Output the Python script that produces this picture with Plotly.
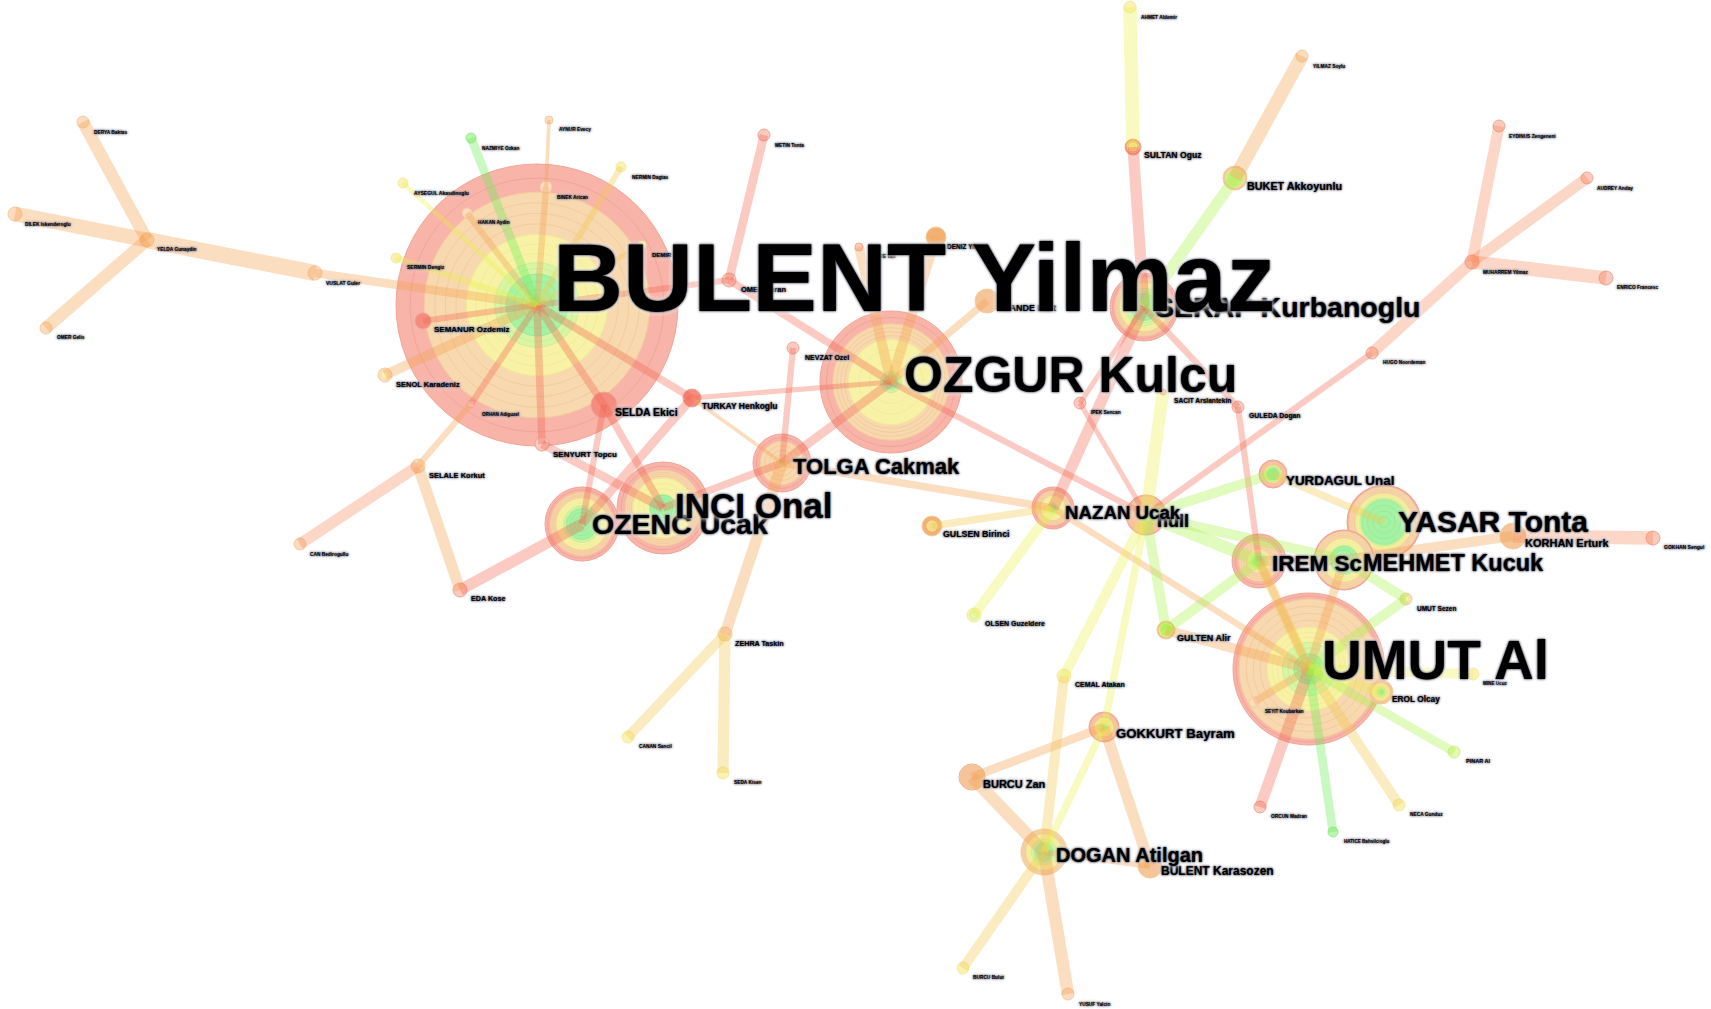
import numpy as np
import plotly.graph_objects as go

# Node table (pixel positions of the co-authorship map)
node_names = [
    "BULENT Yilmaz", "OZGUR Kulcu", "UMUT Al", "INCI Onal", "OZENC Ucak",
    "YASAR Tonta", "MEHMET Kucuk", "IREM Sc", "TOLGA Cakmak", "SERAP Kurbanoglu",
    "NAZAN Ucak", "hull", "DOGAN Atilgan", "GOKKURT Bayram", "YURDAGUL Unal",
    "BUKET Akkoyunlu", "BURCU Zan", "BULENT Karasozen", "KORHAN Erturk", "SELDA Ekici",
    "TURKAY Henkoglu", "SEMANUR Ozdemiz", "SENOL Karadeniz", "SENYURT Topcu", "SELALE Korkut",
    "EDA Kose", "ZEHRA Taskin", "NEVZAT Ozel", "SULTAN Oguz", "GULEDA Dogan",
    "SACIT Arslantekin", "GULSEN Birinci", "GULTEN Alir", "EROL Olcay", "UMUT Sezen",
    "CEMAL Atakan", "OLSEN Guzeldere", "PINAR Al", "DERYA Baktas", "DILEK Iskenderoglu",
    "YELDA Gunaydin", "OMER Gelis", "VUSLAT Guler", "NAZMIYE Ozkan", "AYSEGUL Akasdinoglu",
    "SERMIN Dengiz", "HAKAN Aydin", "BINEK Arican", "AYNUR Evecy", "NERMIN Dagtas",
    "ORHAN Adiguzel", "CAN Bedirogullu", "CANAN Sancil", "SEDA Kisen", "METIN Tonta",
    "OMER Imran", "DENIZ Yilmaz", "HANDE Kurt", "DEMIR Fay", "AHMET Aldemir",
    "YILMAZ Soylu", "EYDINUS Zengeneni", "AUDREY Anday", "ENRICO Francesc", "MUHARREM Yilmaz",
    "HUGO Noordeman", "IPEK Sencan", "GOKHAN Sengul", "MINE Ucuz", "SEYIT Koubarkan",
    "ORCUN Madran", "HATICE Bahsilcioglu", "NECA Gunduz", "BURCU Bulut", "YUSUF Yalcin",
    "EMRE Tan",
]
node_x = [
    537, 891, 1309, 663, 582, 1384, 1344, 1259, 782, 1144,
    1053, 1146, 1044, 1104, 1273, 1235, 972, 1150, 1513, 604,
    692, 423, 385, 542, 418, 460, 725, 793, 1133, 1238,
    1163, 932, 1166, 1381, 1406, 1064, 974, 1454, 83, 15,
    147, 46, 315, 471, 403, 396, 467, 546, 549, 621,
    471, 300, 628, 723, 764, 729, 936, 987, 642, 1130,
    1302, 1499, 1587, 1606, 1472, 1372, 1080, 1653, 1473, 1254,
    1260, 1333, 1399, 963, 1068,
    859,
]
node_y = [
    305, 382, 669, 508, 524, 522, 560, 561, 463, 307,
    508, 515, 852, 727, 474, 178, 777, 866, 536, 405,
    398, 321, 375, 444, 466, 590, 634, 348, 147, 407,
    392, 526, 630, 692, 599, 676, 615, 752, 122, 214,
    240, 328, 273, 138, 183, 258, 213, 187, 120, 167,
    404, 544, 737, 773, 135, 280, 237, 301, 245, 7,
    56, 126, 178, 278, 262, 353, 403, 538, 674, 702,
    807, 832, 805, 968, 994,
    247,
]
node_r = [
    141, 71, 76, 46, 37, 37, 30, 27, 29, 34,
    21, 20, 23, 15, 14, 12, 13, 12, 13, 13,
    9, 8, 7, 7, 7, 7, 7, 6, 8, 6,
    3, 10, 9, 12, 6, 7, 7, 6, 6, 7,
    7, 6, 7, 5, 5, 5, 5, 6, 4, 5,
    4, 6, 6, 6, 6, 7, 10, 12, 4, 6,
    6, 6, 6, 7, 7, 6, 6, 7, 6, 5,
    6, 5, 6, 6, 6,
    4,
]
# radial fractions where the red, orange, yellow and lime bands end
node_bands = [
    (.8, .5, .3, .22), (.82, .6, .15, .1), (.92, .55, .35, .2), (.82, .65, .3, .28), (.85, .68, .5, .42),
    (.95, .75, .65, .6), (.95, .7, .5, .45), (.75, .4, .3, .2), (.75, .12, .08, 0), (.85, .7, .55, .4),
    (.8, .55, .25, .15), (.9, 0, 0, 0), (1, .75, .55, .4), (.85, .6, .25, .15), (.85, .6, .55, .4),
    (1, .78, .72, 0), (.95, 0, 0, 0), (1, 0, 0, 0), (1, 0, 0, 0), (0, 0, 0, 0),
    (0, 0, 0, 0), (0, 0, 0, 0), (1, .5, 0, 0), (0, 0, 0, 0), (1, 0, 0, 0),
    (0, 0, 0, 0), (1, 0, 0, 0), (0, 0, 0, 0), (.75, .5, 0, 0), (0, 0, 0, 0),
    (0, 0, 0, 0), (1, .5, 0, 0), (1, .8, .7, 0), (1, .7, .4, .2), (1, .5, 0, 0),
    (1, 1, 0, 0), (1, 1, .6, 0), (1, 1, 1, 0), (1, 0, 0, 0), (1, 0, 0, 0),
    (1, 0, 0, 0), (1, 0, 0, 0), (1, 0, 0, 0), (1, 1, 1, 1), (1, 1, 0, 0),
    (1, 1, 0, 0), (1, 0, 0, 0), (1, 0, 0, 0), (1, 0, 0, 0), (1, 1, 0, 0),
    (0, 0, 0, 0), (1, 0, 0, 0), (1, 1, 0, 0), (1, 1, 0, 0), (0, 0, 0, 0),
    (0, 0, 0, 0), (1, 0, 0, 0), (1, 0, 0, 0), (1, 1, 0, 0), (1, 1, 0, 0),
    (1, 0, 0, 0), (0, 0, 0, 0), (0, 0, 0, 0), (0, 0, 0, 0), (0, 0, 0, 0),
    (0, 0, 0, 0), (0, 0, 0, 0), (0, 0, 0, 0), (1, 1, 0, 0), (1, 0, 0, 0),
    (0, 0, 0, 0), (1, 1, 1, 1), (1, 1, 0, 0), (1, 1, 0, 0), (1, 0, 0, 0),
    (0, 0, 0, 0),
]
label_x = [
    553, 904, 1322, 675, 592, 1398, 1363, 1272, 793, 1155,
    1065, 1157, 1056, 1116, 1286, 1247, 983, 1161, 1525, 615,
    702, 434, 396, 553, 429, 471, 735, 805, 1144, 1249,
    1174, 943, 1177, 1392, 1417, 1075, 985, 1466, 94, 25,
    157, 57, 326, 482, 414, 407, 478, 557, 559, 632,
    482, 310, 639, 734, 775, 741, 947, 1003, 652, 1141,
    1313, 1509, 1597, 1617, 1483, 1383, 1091, 1664, 1483, 1265,
    1271, 1344, 1410, 973, 1079,
    872,
]
label_y = [
    287, 379, 665, 509, 527, 524, 565, 565, 468, 310,
    514, 522, 857, 735, 482, 187, 785, 872, 544, 413,
    407, 330, 385, 455, 476, 599, 644, 358, 156, 416,
    401, 535, 639, 700, 609, 685, 624, 762, 133, 225,
    250, 338, 284, 149, 194, 268, 223, 198, 130, 178,
    415, 555, 747, 783, 146, 290, 247, 309, 255, 18,
    67, 137, 189, 288, 273, 363, 413, 548, 684, 712,
    817, 842, 815, 978, 1005,
    257,
]
label_size = [
    97, 50, 55, 35, 28.5, 30, 23.5, 22.5, 22, 28.5,
    18.7, 18, 20, 13.2, 13.4, 10.8, 11, 12, 11, 10.5,
    8.5, 8, 7.5, 8, 7.5, 7.2, 7.2, 7, 8.6, 6.8,
    6.6, 8.8, 9, 8.3, 6.5, 7, 7, 5.5, 4.8, 4.8,
    4.8, 4.8, 5, 4.8, 5, 5, 4.8, 4.8, 4.8, 4.8,
    4.6, 4.8, 4.8, 4.8, 4.8, 7.5, 6.5, 9, 6, 4.8,
    4.8, 4.8, 4.8, 4.8, 4.8, 4.8, 4.8, 5, 4.6, 4.6,
    4.8, 4.6, 4.8, 4.8, 4.8,
    4.8,
]

# Links grouped by tone: (source, target, width)
red_links = [
    ("BULENT Yilmaz", "SEMANUR Ozdemiz", 5), ("BULENT Yilmaz", "SENYURT Topcu", 6), ("BULENT Yilmaz", "SELDA Ekici", 6),
    ("BULENT Yilmaz", "TURKAY Henkoglu", 6), ("BULENT Yilmaz", "OMER Imran", 5), ("BULENT Yilmaz", "ORHAN Adiguzel", 5),
    ("OMER Imran", "OZGUR Kulcu", 6), ("METIN Tonta", "OMER Imran", 7), ("SELDA Ekici", "OZENC Ucak", 5),
    ("SELDA Ekici", "INCI Onal", 6), ("SENYURT Topcu", "INCI Onal", 7), ("TURKAY Henkoglu", "OZENC Ucak", 7),
    ("TURKAY Henkoglu", "OZGUR Kulcu", 4), ("EDA Kose", "OZENC Ucak", 9), ("INCI Onal", "TOLGA Cakmak", 6),
    ("TOLGA Cakmak", "NEVZAT Ozel", 5), ("TOLGA Cakmak", "OZGUR Kulcu", 7), ("OZGUR Kulcu", "hull", 5),
    ("NAZAN Ucak", "SERAP Kurbanoglu", 9), ("IPEK Sencan", "hull", 4), ("IPEK Sencan", "SERAP Kurbanoglu", 4),
    ("SERAP Kurbanoglu", "GULEDA Dogan", 5), ("GULEDA Dogan", "IREM Sc", 5), ("HUGO Noordeman", "hull", 5),
    ("SERAP Kurbanoglu", "SULTAN Oguz", 9), ("UMUT Al", "ORCUN Madran", 9),
]
coral_links = [
    ("HUGO Noordeman", "MUHARREM Yilmaz", 9), ("MUHARREM Yilmaz", "EYDINUS Zengeneni", 9),
    ("MUHARREM Yilmaz", "AUDREY Anday", 9), ("MUHARREM Yilmaz", "ENRICO Francesc", 11),
    ("SELALE Korkut", "CAN Bedirogullu", 9), ("KORHAN Erturk", "GOKHAN Sengul", 11),
]
orange_links = [
    ("YELDA Gunaydin", "DERYA Baktas", 10), ("YELDA Gunaydin", "DILEK Iskenderoglu", 12), ("YELDA Gunaydin", "OMER Gelis", 10),
    ("YELDA Gunaydin", "VUSLAT Guler", 13), ("VUSLAT Guler", "BULENT Yilmaz", 7), ("BULENT Yilmaz", "SENOL Karadeniz", 8),
    ("BULENT Yilmaz", "HAKAN Aydin", 5), ("BULENT Yilmaz", "BINEK Arican", 5), ("BINEK Arican", "AYNUR Evecy", 3),
    ("ORHAN Adiguzel", "SELALE Korkut", 5), ("SELALE Korkut", "EDA Kose", 9), ("TURKAY Henkoglu", "TOLGA Cakmak", 3),
    ("TOLGA Cakmak", "ZEHRA Taskin", 9), ("OZGUR Kulcu", "DENIZ Yilmaz", 8), ("OZGUR Kulcu", "HANDE Kurt", 6),
    ("OZGUR Kulcu", "EMRE Tan", 8), ("TOLGA Cakmak", "NAZAN Ucak", 6), ("NAZAN Ucak", "UMUT Al", 5),
    ("BUKET Akkoyunlu", "YILMAZ Soylu", 11), ("GULTEN Alir", "UMUT Al", 8), ("GOKKURT Bayram", "BURCU Zan", 7),
    ("BURCU Zan", "DOGAN Atilgan", 10), ("GOKKURT Bayram", "BULENT Karasozen", 9), ("DOGAN Atilgan", "BULENT Karasozen", 5),
    ("DOGAN Atilgan", "YUSUF Yalcin", 10), ("IREM Sc", "MEHMET Kucuk", 8), ("MEHMET Kucuk", "KORHAN Erturk", 8),
    ("IREM Sc", "UMUT Al", 6), ("UMUT Al", "SEYIT Koubarkan", 6), ("MEHMET Kucuk", "UMUT Al", 7),
]
amber_links = [
    ("ZEHRA Taskin", "CANAN Sancil", 8), ("ZEHRA Taskin", "SEDA Kisen", 9), ("NAZAN Ucak", "GULSEN Birinci", 6),
    ("CEMAL Atakan", "DOGAN Atilgan", 8), ("DOGAN Atilgan", "BURCU Bulut", 8), ("YURDAGUL Unal", "YASAR Tonta", 6),
    ("BULENT Yilmaz", "NERMIN Dagtas", 5), ("BULENT Yilmaz", "DEMIR Fay", 4), ("UMUT Al", "NECA Gunduz", 8),
    ("IREM Sc", "UMUT Al", 8),
]
yellow_links = [
    ("BULENT Yilmaz", "AYSEGUL Akasdinoglu", 4), ("BULENT Yilmaz", "SERMIN Dengiz", 5), ("SACIT Arslantekin", "hull", 10),
    ("NAZAN Ucak", "OLSEN Guzeldere", 8), ("SULTAN Oguz", "AHMET Aldemir", 11), ("hull", "CEMAL Atakan", 8),
    ("hull", "GOKKURT Bayram", 6), ("GOKKURT Bayram", "DOGAN Atilgan", 6), ("UMUT Al", "MINE Ucuz", 8),
    ("UMUT Al", "EROL Olcay", 8),
]
lime_links = [
    ("SERAP Kurbanoglu", "BUKET Akkoyunlu", 9), ("hull", "YURDAGUL Unal", 8), ("hull", "IREM Sc", 10),
    ("hull", "MEHMET Kucuk", 8), ("hull", "GULTEN Alir", 8), ("GULTEN Alir", "IREM Sc", 8),
    ("MEHMET Kucuk", "UMUT Sezen", 8), ("UMUT Sezen", "UMUT Al", 8), ("UMUT Al", "PINAR Al", 7),
]
green_links = [
    ("BULENT Yilmaz", "NAZMIYE Ozkan", 7), ("UMUT Al", "HATICE Bahsilcioglu", 7),
]

# Tone colours: pale for big rings, stronger for smaller filled nodes
pale = ["#f8b4a9", "#f8d8ae", "#f7f2a6", "#d8f5a6", "#a6f2a4"]
mid = ["#f6b3a4", "#f5c498", "#f4e68a", "#cdee80", "#9aec90"]
deep = ["#f48d7f", "#f2b172", "#f3dc8a", "#c4ec66", "#8ee88a"]
leaf = ["#fbcabf", "#fbdcc0", "#faf2b4", "#e6f8b0", "#bdf5b0"]
ring_line = ["#f0a597", "#f3cc9c", "#f2ec98", "#cbef98", "#98ec98"]
deep_nodes = ["SELDA Ekici"]
link_tones = {
    "rgba(240,100,80,0.34)": red_links,
    "rgba(245,130,80,0.32)": coral_links,
    "rgba(245,160,80,0.36)": orange_links,
    "rgba(240,200,80,0.36)": amber_links,
    "rgba(235,240,70,0.33)": yellow_links,
    "rgba(170,240,70,0.35)": lime_links,
    "rgba(110,235,90,0.37)": green_links,
}
band_rings = [2, 4, 3, 2, 4]
link_scale = 1.25


def node_layers(name, r, bands):
    """Outer-to-inner list of (radius, fill, line) for one node."""
    edges = [1.0] + list(bands) + [0.0]
    layers = []
    for tone in range(5):
        hi, lo = edges[tone], edges[tone + 1]
        if hi <= lo:
            continue
        count = 1 if r <= 20 else band_rings[tone]
        for f in np.linspace(hi, lo, count, endpoint=False):
            if r <= 7:
                fill = leaf
            elif r <= 11 or name in deep_nodes:
                fill = deep
            elif r <= 20:
                fill = mid
            else:
                fill = pale
            layers.append((r * f, fill[tone], ring_line[tone]))
    return layers


fig = go.Figure()

# Node rings go first so the translucent links tint them
ring_x, ring_y, ring_size, ring_fill, ring_edge = [], [], [], [], []
for name, x, y, r, bands in zip(node_names, node_x, node_y, node_r, node_bands):
    for radius, fill, line in node_layers(name, r, bands):
        ring_x.append(x)
        ring_y.append(y)
        ring_size.append(2 * radius)
        ring_fill.append(fill)
        ring_edge.append(line)
fig.add_trace(go.Scatter(
    x=ring_x, y=ring_y, mode="markers", hoverinfo="skip",
    marker=dict(size=ring_size, sizemode="diameter", color=ring_fill, opacity=1,
                line=dict(color=ring_edge, width=1)),
))

position = dict(zip(node_names, zip(node_x, node_y)))
for color, links in link_tones.items():
    for source, target, width in links:
        fig.add_trace(go.Scatter(
            x=[position[source][0], position[target][0]],
            y=[position[source][1], position[target][1]],
            mode="lines", hoverinfo="skip",
            line=dict(color=color, width=width * link_scale),
        ))

# Small labels first, big ones on top of them
order = sorted(range(len(node_names)), key=lambda i: label_size[i])
fig.add_trace(go.Scatter(
    x=[label_x[i] for i in order],
    y=[label_y[i] for i in order],
    text=[node_names[i] for i in order],
    mode="text", textposition="middle right", hoverinfo="skip",
    textfont=dict(
        family="Liberation Sans, Arial, sans-serif",
        color="#000000",
        weight="bold",
        size=[label_size[i] for i in order],
        shadow="0 0 2px rgba(30,30,50,0.9), 0 0 3px rgba(60,60,80,0.7), 0 0 5px #ffffff, 0 0 5px #ffffff",
    ),
))

fig.update_xaxes(range=[0, 1711], visible=False, fixedrange=True)
fig.update_yaxes(range=[1009, 0], visible=False, fixedrange=True)
fig.update_layout(
    width=1711, height=1009,
    margin=dict(l=0, r=0, t=0, b=0),
    paper_bgcolor="white", plot_bgcolor="white",
    showlegend=False,
)
fig.write_html("out.html", config={"displayModeBar": False},
               post_script="document.body.style.margin='0';")
